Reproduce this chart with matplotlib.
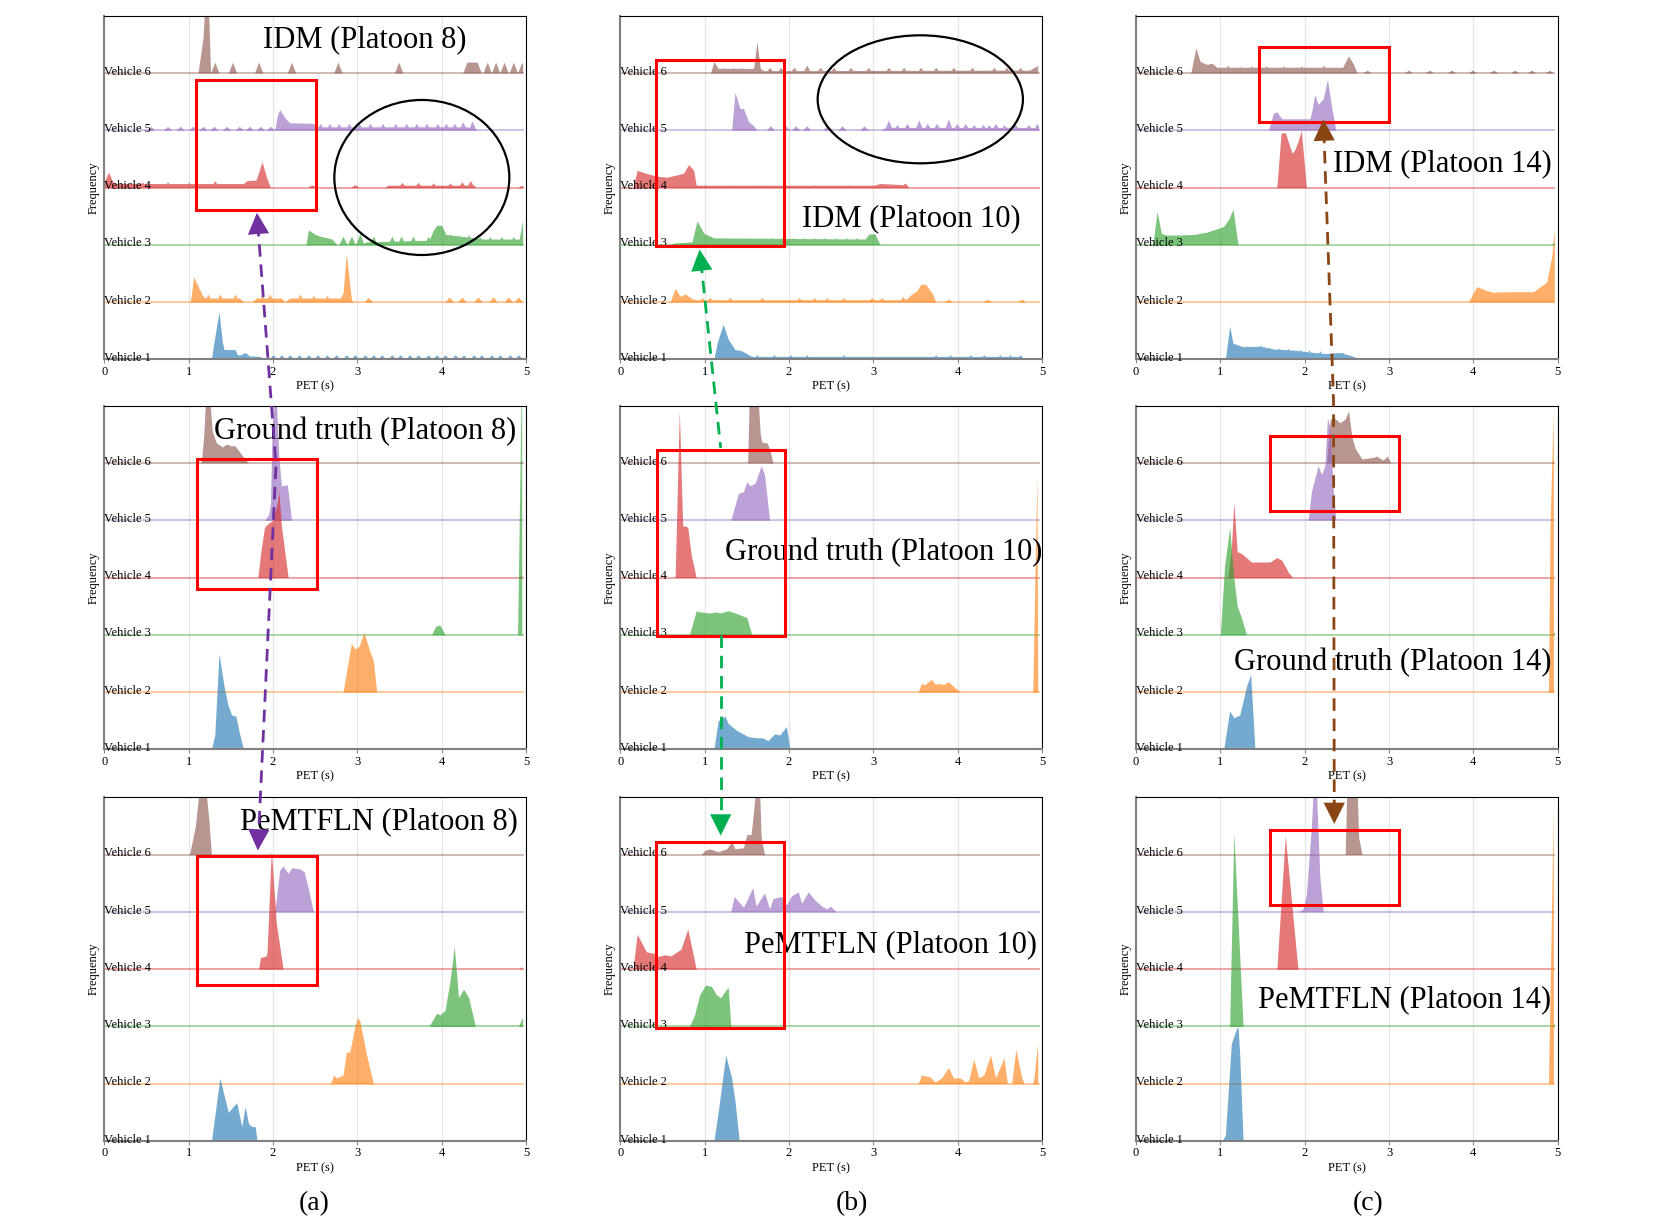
import numpy as np
import matplotlib.pyplot as plt
from matplotlib.patches import Rectangle, Ellipse, FancyArrowPatch
from matplotlib.lines import Line2D

plt.rcParams['font.family'] = ['Liberation Serif', 'DejaVu Serif']

colors = ['#1f77b4', '#ff7f0e', '#2ca02c', '#d62728', '#9467bd', '#8c564b']
vehicles = ['Vehicle 1', 'Vehicle 2', 'Vehicle 3', 'Vehicle 4', 'Vehicle 5', 'Vehicle 6']
pet_ticks = [0, 1, 2, 3, 4, 5]

# each vehicle: list of (PET, frequency) knots, vehicle 1 first
# IDM platoon 8
idm8 = [
    [(1.27, 0), (1.3, 0.3), (1.36, 0.83), (1.4, 0.3), (1.42, 0.17), (1.55, 0.17), (1.58, 0.08), (1.62, 0.08),
     (1.67, 0.12), (1.72, 0.06), (1.85, 0.05), (1.88, 0)],
    [(1.02, 0), (1.06, 0.44), (1.12, 0.25), (1.17, 0.1), (1.2, 0.07), (1.6, 0.07), (1.65, 0), (1.75, 0), (1.8, 0.07),
     (2.1, 0.07), (2.14, 0), (2.2, 0.07), (2.8, 0.07), (2.83, 0.15), (2.87, 0.85), (2.93, 0.05), (2.95, 0)],
    [(2.39, 0), (2.42, 0.26), (2.5, 0.18), (2.56, 0.15), (2.7, 0.1), (2.76, 0), (3.05, 0), (3.1, 0.05), (3.85, 0.08),
     (3.9, 0.25), (3.94, 0.34), (4.0, 0.34), (4.05, 0.18), (4.5, 0.1), (4.92, 0.1), (4.96, 0.43)],
    [(0.0, 0.1), (0.05, 0.27), (0.1, 0.1), (0.15, 0.07), (1.65, 0.07), (1.69, 0.12), (1.8, 0.13), (1.87, 0.45),
     (1.93, 0.15), (1.97, 0), (3.33, 0), (3.36, 0.04), (4.38, 0.04), (4.41, 0)],
    [(2.02, 0), (2.05, 0.25), (2.08, 0.36), (2.15, 0.2), (2.2, 0.13), (2.48, 0.12), (2.52, 0.06), (4.3, 0.06), (4.43, 0)],
    [(1.11, 0), (1.17, 0.6), (1.2, 1.4), (1.23, 1.4), (1.26, 0), (4.25, 0), (4.3, 0.19), (4.42, 0.19), (4.47, 0)],
]
idm8_spikes = [
    [(x, 0.08) for x in [2.0, 2.1, 2.2, 2.31, 2.42, 2.53, 2.64, 2.75, 2.87, 2.97, 3.09, 3.19, 3.29, 3.41, 3.51, 3.62,
                         3.72, 3.84, 3.94, 4.04, 4.16, 4.26, 4.38, 4.47, 4.59, 4.69, 4.81, 4.91]],
    [(1.23, 0.14), (1.37, 0.14), (1.55, 0.14), (1.87, 0.12), (1.96, 0.14), (2.32, 0.14), (2.48, 0.12), (2.64, 0.12),
     (3.13, 0.08), (4.09, 0.09), (4.24, 0.09), (4.43, 0.09), (4.61, 0.09), (4.79, 0.09), (4.91, 0.09)],
    [(2.83, 0.15), (2.93, 0.15), (3.03, 0.2), (3.19, 0.15), (3.41, 0.15), (3.52, 0.15), (3.66, 0.15), (3.84, 0.15),
     (4.1, 0.2), (4.2, 0.18), (4.32, 0.18), (4.45, 0.15), (4.57, 0.15), (4.71, 0.15), (4.85, 0.15)],
    [(0.45, 0.1), (0.75, 0.1), (1.0, 0.09), (1.31, 0.12), (2.46, 0.05), (2.97, 0.05), (3.53, 0.09), (3.72, 0.09),
     (3.9, 0.08), (4.1, 0.08), (4.24, 0.1), (4.34, 0.12), (4.95, 0.04)],
    [(x, 0.07) for x in [0.55, 0.75, 0.9, 1.05, 1.17, 1.3, 1.45, 1.6, 1.72, 1.85, 1.97]] +
    [(x, 0.12) for x in [2.56, 2.67, 2.78, 2.9, 3.02, 3.15, 3.3, 3.45, 3.58, 3.7, 3.82, 3.95, 4.05, 4.15]] +
    [(4.25, 0.15), (4.36, 0.16)],
    [(x, 0.19) for x in [1.31, 1.52, 1.83, 2.22, 2.77, 3.49, 4.54, 4.64, 4.74, 4.85, 4.95]],
]

# Ground truth platoon 8
gt8 = [
    [(1.27, 0), (1.31, 0.25), (1.36, 1.67), (1.42, 1.1), (1.47, 0.75), (1.51, 0.6), (1.56, 0.58), (1.6, 0.3), (1.65, 0)],
    [(2.83, 0), (2.9, 0.6), (2.93, 0.85), (2.97, 0.75), (3.02, 0.8), (3.08, 1.04), (3.14, 0.75), (3.19, 0.55), (3.23, 0)],
    [(3.88, 0), (3.93, 0.15), (3.98, 0.17), (4.04, 0), (4.9, 0), (4.95, 5.0)],
    [(1.82, 0), (1.86, 0.5), (1.9, 0.88), (1.95, 0.95), (2.0, 1.0), (2.05, 1.3), (2.07, 1.5), (2.1, 0.9), (2.18, 0),
     (4.92, 0), (4.95, 0.05)],
    [(1.9, 0), (1.95, 0.1), (1.97, 0.3), (1.99, 1.6), (2.01, 2.1), (2.04, 2.1), (2.07, 1.1), (2.1, 0.6), (2.17, 0.62),
     (2.22, 0)],
    [(1.15, 0), (1.18, 0.5), (1.2, 1.1), (1.25, 1.1), (1.28, 0.55), (1.33, 0.35), (1.4, 0.28), (1.45, 0.33), (1.5, 0.3),
     (1.55, 0.3), (1.6, 0.2), (1.66, 0.08), (1.71, 0), (4.92, 0), (4.95, 0.04)],
]

# PeMTFLN platoon 8
pm8 = [
    [(1.27, 0), (1.37, 1.1), (1.47, 0.5), (1.57, 0.67), (1.63, 0.25), (1.67, 0.6), (1.71, 0.3), (1.75, 0.25),
     (1.79, 0.25), (1.81, 0)],
    [(2.68, 0), (2.72, 0.15), (2.75, 0.1), (2.83, 0.15), (2.87, 0.55), (2.91, 0.55), (2.97, 1.0), (3.0, 1.15),
     (3.03, 1.1), (3.11, 0.5), (3.19, 0)],
    [(3.85, 0), (3.94, 0.23), (3.98, 0.2), (4.04, 0.28), (4.1, 0.8), (4.15, 1.4), (4.2, 0.5), (4.24, 0.6), (4.26, 0.65),
     (4.32, 0.5), (4.4, 0), (4.91, 0), (4.96, 0.16)],
    [(1.83, 0), (1.85, 0.2), (1.92, 0.23), (1.93, 0.3), (1.98, 2.08), (2.04, 0.8), (2.07, 0.5), (2.12, 0),
     (4.92, 0), (4.95, 0.05)],
    [(2.02, 0), (2.08, 0.73), (2.12, 0.8), (2.18, 0.67), (2.22, 0.77), (2.32, 0.75), (2.37, 0.7), (2.42, 0.4), (2.48, 0)],
    [(1.01, 0), (1.08, 0.5), (1.13, 1.2), (1.2, 1.2), (1.24, 0.6), (1.27, 0)],
]

# IDM platoon 10
idm10 = [
    [(1.11, 0), (1.15, 0.3), (1.22, 0.61), (1.28, 0.35), (1.36, 0.17), (1.44, 0.15), (1.52, 0.08), (1.56, 0.05),
     (4.75, 0.05), (4.78, 0)],
    [(0.59, 0), (0.65, 0.24), (0.71, 0.1), (0.77, 0.14), (0.85, 0.06), (0.9, 0.04), (3.38, 0.04), (3.44, 0.12),
     (3.52, 0.2), (3.56, 0.31), (3.62, 0.31), (3.7, 0.15), (3.74, 0)],
    [(0.6, 0), (0.63, 0.03), (0.85, 0.05), (0.91, 0.42), (0.99, 0.2), (1.11, 0.12), (2.9, 0.1), (2.95, 0.19),
     (3.02, 0.19), (3.08, 0)],
    [(0.15, 0), (0.2, 0.3), (0.3, 0.25), (0.43, 0.2), (0.55, 0.18), (0.67, 0.22), (0.75, 0.25), (0.81, 0.4),
     (0.87, 0.3), (0.9, 0.04), (3.0, 0.04), (3.08, 0.07), (3.35, 0.05), (3.38, 0.08), (3.42, 0)],
    [(1.32, 0), (1.36, 0.66), (1.42, 0.38), (1.46, 0.38), (1.52, 0.15), (1.58, 0.08), (1.62, 0), (3.1, 0), (3.14, 0.05),
     (4.95, 0.05)],
    [(1.07, 0), (1.11, 0.2), (1.16, 0.08), (1.58, 0.08), (1.62, 0.55), (1.66, 0.08), (1.7, 0.04), (4.85, 0.05),
     (4.95, 0.13)],
]
idm10_spikes = [
    [(x, 0.08) for x in [1.62, 1.82, 2.02, 2.21, 2.65, 3.74, 3.91, 4.15, 4.31, 4.5, 4.62, 4.74]],
    [(x, 0.08) for x in [0.97, 1.06, 1.3, 1.68, 2.12, 2.3, 2.45, 2.65, 2.98, 3.1]] +
    [(3.35, 0.1), (3.89, 0.05), (4.35, 0.05), (4.76, 0.05)],
    [(x, 0.13) for x in [1.2, 1.3, 1.42, 1.55, 1.68, 1.8, 1.92, 2.05, 2.18, 2.3, 2.42, 2.55, 2.68, 2.8]],
    [(x, 0.05) for x in [1.0, 1.3, 1.65, 1.95, 2.3, 2.7]],
    [(1.78, 0.08), (1.96, 0.08), (2.08, 0.08), (2.21, 0.08), (2.45, 0.08), (2.63, 0.08), (2.89, 0.08), (3.18, 0.18),
     (3.28, 0.1), (3.4, 0.12), (3.54, 0.18), (3.64, 0.12), (3.75, 0.12), (3.89, 0.2), (3.99, 0.12), (4.09, 0.12),
     (4.19, 0.1), (4.3, 0.1), (4.37, 0.1), (4.45, 0.12), (4.55, 0.1), (4.68, 0.12), (4.84, 0.1), (4.94, 0.12)],
    [(x, 0.1) for x in [1.23, 1.34, 1.44, 1.77, 1.9, 2.06]] + [(2.21, 0.14)] +
    [(x, 0.1) for x in [2.37, 2.53, 2.73, 2.94, 3.18, 3.36, 3.56, 3.74, 3.95, 4.17, 4.43, 4.58, 4.74]],
]

# Ground truth platoon 10
gt10 = [
    [(1.11, 0), (1.16, 0.5), (1.24, 0.58), (1.28, 0.45), (1.38, 0.33), (1.52, 0.22), (1.62, 0.2), (1.69, 0.2),
     (1.75, 0.15), (1.83, 0.27), (1.89, 0.25), (1.97, 0.4), (2.01, 0), (4.92, 0), (4.95, 0.05)],
    [(3.53, 0), (3.57, 0.15), (3.61, 0.13), (3.69, 0.22), (3.73, 0.14), (3.79, 0.15), (3.83, 0.13), (3.89, 0.18),
     (3.95, 0.1), (4.03, 0), (4.89, 0), (4.94, 3.8), (4.95, 0)],
    [(0.82, 0), (0.9, 0.42), (0.94, 0.4), (1.06, 0.38), (1.14, 0.4), (1.18, 0.38), (1.28, 0.42), (1.38, 0.37),
     (1.5, 0.3), (1.56, 0)],
    [(0.65, 0), (0.7, 2.92), (0.74, 0.9), (0.76, 0.9), (0.8, 0.88), (0.84, 0.4), (0.9, 0)],
    [(1.31, 0), (1.4, 0.47), (1.46, 0.5), (1.5, 0.67), (1.54, 0.6), (1.6, 0.65), (1.67, 0.95), (1.71, 0.8), (1.77, 0)],
    [(1.51, 0), (1.53, 1.2), (1.63, 1.2), (1.66, 0.5), (1.68, 0.36), (1.74, 0.35), (1.78, 0.2), (1.81, 0)],
]

# PeMTFLN platoon 10
pm10 = [
    [(1.11, 0), (1.16, 0.5), (1.25, 1.5), (1.32, 1.1), (1.36, 0.7), (1.41, 0)],
    [(3.53, 0), (3.57, 0.15), (3.67, 0.12), (3.73, 0.03), (3.81, 0.1), (3.89, 0.28), (3.95, 0.1), (4.03, 0.1),
     (4.09, 0.03), (4.13, 0.05), (4.19, 0.43), (4.25, 0.1), (4.31, 0.15), (4.39, 0.5), (4.45, 0.1), (4.55, 0.45),
     (4.59, 0), (4.64, 0), (4.69, 0.6), (4.76, 0.1), (4.79, 0), (4.88, 0), (4.9, 0.05), (4.95, 0.72)],
    [(0.82, 0), (0.88, 0.2), (0.94, 0.55), (1.01, 0.72), (1.08, 0.7), (1.14, 0.55), (1.19, 0.5), (1.26, 0.65),
     (1.28, 0.68), (1.31, 0)],
    [(0.15, 0), (0.2, 0.61), (0.31, 0.3), (0.39, 0.28), (0.45, 0.22), (0.53, 0.25), (0.6, 0.23), (0.72, 0.35),
     (0.8, 0.7), (0.9, 0)],
    [(1.31, 0), (1.35, 0.27), (1.46, 0.08), (1.57, 0.42), (1.61, 0.1), (1.71, 0.33), (1.77, 0.05), (1.81, 0.23),
     (1.91, 0.27), (1.97, 0.12), (2.03, 0.28), (2.11, 0.35), (2.15, 0.15), (2.23, 0.35), (2.31, 0.2), (2.39, 0.1),
     (2.45, 0.05), (2.49, 0.1), (2.56, 0)],
    [(0.96, 0), (1.0, 0.07), (1.06, 0.1), (1.16, 0.05), (1.26, 0.1), (1.32, 0.22), (1.36, 0.1), (1.46, 0.12),
     (1.5, 0.35), (1.55, 0.35), (1.57, 0.6), (1.61, 1.2), (1.65, 1.2), (1.67, 0.3), (1.71, 0)],
]

# IDM platoon 14
idm14 = [
    [(1.06, 0), (1.11, 0.58), (1.15, 0.28), (1.27, 0.22), (1.47, 0.23), (1.63, 0.18), (1.87, 0.16), (2.1, 0.12),
     (2.26, 0.1), (2.42, 0.12), (2.58, 0.05), (2.65, 0)],
    [(3.94, 0), (4.04, 0.27), (4.16, 0.2), (4.24, 0.17), (4.4, 0.18), (4.55, 0.18), (4.71, 0.18), (4.87, 0.35),
     (4.93, 0.8), (4.96, 1.28)],
    [(0.2, 0), (0.25, 0.59), (0.3, 0.2), (0.36, 0.17), (0.48, 0.17), (0.68, 0.18), (0.84, 0.22), (0.94, 0.27),
     (1.04, 0.32), (1.1, 0.45), (1.15, 0.62), (1.21, 0), (4.92, 0), (4.96, 0.05)],
    [(1.67, 0), (1.72, 0.95), (1.77, 0.96), (1.85, 0.6), (1.88, 0.65), (1.92, 0.8), (1.96, 1.0), (2.02, 0)],
    [(1.57, 0), (1.63, 0.3), (1.67, 0.32), (1.73, 0.2), (2.06, 0.2), (2.08, 0.3), (2.12, 0.62), (2.16, 0.45),
     (2.22, 0.55), (2.27, 0.89), (2.32, 0.4), (2.37, 0)],
    [(0.65, 0), (0.71, 0.44), (0.76, 0.2), (0.84, 0.15), (0.9, 0.17), (0.96, 0.1), (2.45, 0.1), (2.52, 0.3),
     (2.58, 0.15), (2.62, 0)],
]
idm14_spikes = [
    [(1.2, 0.26), (1.32, 0.25), (1.48, 0.26), (1.58, 0.22), (1.7, 0.21), (1.8, 0.2), (1.95, 0.18), (2.05, 0.17),
     (2.18, 0.15), (2.35, 0.12), (2.45, 0.13)],
    [(4.1, 0.24), (4.3, 0.2), (4.48, 0.2), (4.62, 0.2), (4.78, 0.22)],
    [],
    [],
    [],
    [(1.09, 0.14), (1.23, 0.12), (1.37, 0.13), (1.54, 0.13), (1.75, 0.13), (1.96, 0.13), (2.22, 0.14)] +
    [(x, 0.05) for x in [2.74, 3.23, 3.48, 3.74, 3.99, 4.24, 4.49, 4.69, 4.9]],
]

# Ground truth platoon 14
gt14 = [
    [(1.04, 0), (1.11, 0.67), (1.16, 0.55), (1.23, 0.6), (1.31, 1.1), (1.36, 1.31), (1.41, 0), (4.92, 0), (4.95, 0.07)],
    [(4.89, 0), (4.91, 3.0), (4.95, 5.0)],
    [(1.0, 0), (1.05, 1.2), (1.11, 1.88), (1.16, 1.0), (1.2, 0.5), (1.25, 0.3), (1.31, 0), (4.92, 0), (4.96, 0.05)],
    [(1.09, 0), (1.13, 0.5), (1.16, 1.31), (1.2, 0.45), (1.25, 0.42), (1.37, 0.27), (1.59, 0.27), (1.67, 0.35),
     (1.73, 0.3), (1.81, 0.08), (1.86, 0)],
    [(2.04, 0), (2.08, 0.5), (2.16, 0.95), (2.2, 0.8), (2.24, 0.95), (2.27, 1.8), (2.3, 1.6), (2.34, 0.5), (2.37, 0)],
    [(2.26, 0), (2.3, 0.75), (2.34, 0.8), (2.42, 0.7), (2.48, 0.77), (2.52, 0.91), (2.56, 0.45), (2.6, 0.25),
     (2.68, 0.07), (2.82, 0.1), (2.85, 0.12), (2.93, 0.05), (2.98, 0.12), (3.02, 0), (4.92, 0), (4.95, 0.04)],
]

# PeMTFLN platoon 14
pm14 = [
    [(1.02, 0), (1.06, 0.1), (1.13, 1.7), (1.19, 1.95), (1.21, 2.0), (1.23, 1.5), (1.27, 0)],
    [(4.89, 0), (4.95, 5.0)],
    [(1.11, 0), (1.16, 3.38), (1.27, 0), (4.92, 0), (4.96, 0.05)],
    [(1.67, 0), (1.77, 2.33), (1.92, 0)],
    [(1.92, 0), (1.98, 0.05), (2.02, 0.3), (2.08, 1.5), (2.1, 2.1), (2.14, 2.1), (2.18, 0.6), (2.22, 0)],
    [(2.48, 0), (2.5, 1.2), (2.62, 1.2), (2.64, 0.3), (2.68, 0)],
]
no_spikes = [[], [], [], [], [], []]

titles = [['IDM (Platoon 8)', 'Ground truth (Platoon 8)', 'PeMTFLN (Platoon 8)'],
          ['IDM (Platoon 10)', 'Ground truth (Platoon 10)', 'PeMTFLN (Platoon 10)'],
          ['IDM (Platoon 14)', 'Ground truth (Platoon 14)', 'PeMTFLN (Platoon 14)']]
data = [[(idm8, idm8_spikes), (gt8, no_spikes), (pm8, no_spikes)],
        [(idm10, idm10_spikes), (gt10, no_spikes), (pm10, no_spikes)],
        [(idm14, idm14_spikes), (gt14, no_spikes), (pm14, no_spikes)]]
title_pos = [[(0.86, 0.93), (0.978, 0.924), (0.98, 0.929)],
             [(0.95, 0.41), (1.0, 0.572), (0.988, 0.57)],
             [(0.987, 0.57), (0.985, 0.252), (0.985, 0.411)]]
red_boxes = [[(1.084, 2.607, 2.507, 4.877), (1.103, 2.799, 2.526, 5.064), (1.103, 2.73, 2.52, 4.98)],
             [(0.423, 1.978, 1.936, 5.226), (0.435, 1.978, 1.951, 5.226), (0.428, 1.978, 1.94, 5.226)],
             [(1.463, 4.136, 2.994, 5.457), (1.59, 4.154, 3.113, 5.475), (1.59, 4.119, 3.113, 5.435)]]
ellipses = {(0, 0): (3.765, 3.175, 2.075, 2.707), (1, 0): (3.557, 4.54, 2.434, 2.235)}

W, H = 1661, 1222
fig = plt.figure(figsize=(W / 100, H / 100), dpi=100)
col_left = [104.3, 620.3, 1136]
row_top = [15.7, 405.7, 797.3]
aw, ah = 421.7, 343.6

grid = np.linspace(0, 4.96, 2500)


def ridge(knots, spikes):
    kx = [p[0] for p in knots]
    ky = [p[1] for p in knots]
    y = np.interp(grid, kx, ky, left=0, right=0)
    for sx, sh in spikes:
        y = np.maximum(y, sh * np.clip(1 - np.abs(grid - sx) / 0.05, 0, None))
    return y


for c in range(3):
    for r in range(3):
        ax = fig.add_axes([col_left[c] / W, 1 - (row_top[r] + ah) / H, aw / W, ah / H])
        series, spikes = data[c][r]
        for k in range(5, -1, -1):
            y = ridge(series[k], spikes[k])
            ax.fill_between(grid, k, k + y, color=colors[k], alpha=0.62, lw=0, zorder=2)
            ax.plot([0, 4.96], [k, k], color=colors[k], lw=1.3, alpha=0.45, zorder=2)
            ax.text(0.0, k - 0.03, vehicles[k], fontsize=9, ha='left', va='baseline', zorder=3)
        ax.set_xlim(0, 5)
        ax.set_ylim(0, 6)
        ax.set_xticks(pet_ticks)
        ax.set_yticks([])
        ax.grid(axis='x', color='#e6e6e6', lw=1, zorder=0)
        ax.tick_params(axis='x', labelsize=9, length=3, width=0.8, color='#888888', pad=1.5)
        ax.set_xlabel('PET (s)', fontsize=9, labelpad=2)
        ax.set_ylabel('Frequency', fontsize=9, labelpad=3)
        for s in ['left', 'bottom']:
            ax.spines[s].set_color('#808080')
            ax.spines[s].set_linewidth(1.5)
        for s in ['top', 'right']:
            ax.spines[s].set_color('black')
            ax.spines[s].set_linewidth(0.8)
        tx, ty = title_pos[c][r]
        ax.text(tx, ty, titles[c][r], transform=ax.transAxes, fontsize=22, ha='right', va='center', zorder=5)
        x0, y0, x1, y1 = red_boxes[c][r]
        ax.add_patch(Rectangle((x0, y0), x1 - x0, y1 - y0, fill=False, ec='#ff0000', lw=2.2, zorder=6,
                               clip_on=False))
        if (c, r) in ellipses:
            ex, ey, ew, eh = ellipses[(c, r)]
            ax.add_patch(Ellipse((ex, ey), ew, eh, fill=False, ec='black', lw=1.6, zorder=6, clip_on=False))


def fig_pt(x, y):
    return (x / W, 1 - y / H)


def dashed(points, color):
    xs = [fig_pt(*p)[0] for p in points]
    ys = [fig_pt(*p)[1] for p in points]
    fig.add_artist(Line2D(xs, ys, color=color, lw=2, ls=(0, (4.5, 2.8)), transform=fig.transFigure, zorder=10))


def head(start, tip, color):
    sx, sy = start
    tx, ty = tip
    d = np.hypot(tx - sx, ty - sy)
    bx, by = tx - (tx - sx) / d * 16, ty - (ty - sy) / d * 16
    fig.add_artist(FancyArrowPatch(fig_pt(bx, by), fig_pt(tx, ty), transform=fig.transFigure,
                                   arrowstyle='-|>,head_length=0.9,head_width=0.45', mutation_scale=17,
                                   color=color, lw=0, zorder=11))


def base_of(start, tip, n=14):
    sx, sy = start
    tx, ty = tip
    d = np.hypot(tx - sx, ty - sy)
    return (tx - (tx - sx) / d * n, ty - (ty - sy) / d * n)


# purple arrows (a)
pa_top, pa_mid, pa_bot = (256.7, 210), (276, 465), (257.7, 853.3)
dashed([base_of(pa_mid, pa_top), pa_mid, base_of(pa_mid, pa_bot)], '#7030a0')
head(pa_mid, pa_top, '#7030a0')
head(pa_mid, pa_bot, '#7030a0')

# green arrows (b)
ga_top, ga_from1, ga_from2, ga_bot = (699.3, 246.7), (720.7, 448), (720.7, 635), (720.7, 838.3)
dashed([base_of(ga_from1, ga_top), ga_from1], '#00b050')
dashed([ga_from2, base_of(ga_from2, ga_bot)], '#00b050')
head(ga_from1, ga_top, '#00b050')
head(ga_from2, ga_bot, '#00b050')

# brown arrows (c)
ba_top, ba_mid, ba_bot = (1323.3, 116.7), (1333.5, 400), (1334.3, 826.7)
dashed([base_of(ba_mid, ba_top), ba_mid, base_of(ba_mid, ba_bot)], '#8b4513')
head(ba_mid, ba_top, '#8b4513')
head(ba_mid, ba_bot, '#8b4513')

for lab, x in zip(['(a)', '(b)', '(c)'], [314, 852, 1368]):
    fig.text(x / W, 1 - 1204 / H, lab, fontsize=20, ha='center', va='center')

plt.savefig('out.png', dpi=100)
